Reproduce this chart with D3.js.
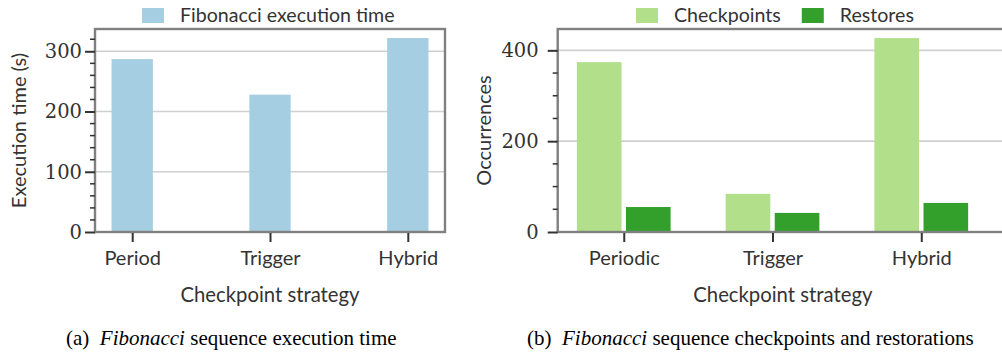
<!DOCTYPE html>
<html>
<head>
<meta charset="utf-8">
<script src="https://cdn.jsdelivr.net/npm/d3@7"></script>
<style>
  body { margin: 0; background: #fff; }
  .sans { font-family: Lato, "Open Sans", sans-serif; fill: #333; }
  .num { font-family: "DejaVu Serif", serif; fill: #333; }
  .cap { font-family: "Liberation Serif", serif; fill: #000; }
</style>
</head>
<body>
<div id="vis"></div>
<script>
// data
var strategiesA = ['Period', 'Trigger', 'Hybrid'];
var execTime = [287, 228, 322];

var strategiesB = ['Periodic', 'Trigger', 'Hybrid'];
var checkpoints = [374, 84, 427];
var restores = [55, 42, 64];

var ticksA = [0, 100, 200, 300];
var ticksB = [0, 200, 400];

var width = 1002;
var height = 354;

var svg = d3.select('#vis').append('svg')
  .attr('width', width)
  .attr('height', height);

var yTop = 29, yBottom = 232;

// draws one bar panel; series is a list of {name, values, color}
function panel(opt) {
  var g = svg.append('g');
  var x = d3.scaleLinear().domain(opt.xdom).range([opt.left, opt.right]);
  var y = d3.scaleLinear().domain([0, opt.ymax]).range([yBottom, yTop]);
  var unit = x(1) - x(0);

  // grid
  g.selectAll('.grid')
    .data(opt.ticks.filter(function (d) { return d > 0; }))
    .enter().append('line')
    .attr('x1', opt.left).attr('x2', opt.right)
    .attr('y1', function (d) { return y(d); })
    .attr('y2', function (d) { return y(d); })
    .attr('stroke', '#d0d0d0')
    .attr('stroke-width', 1.6);

  // bars
  var n = opt.series.length;
  opt.series.forEach(function (s, si) {
    g.selectAll('.bar' + si)
      .data(s.values)
      .enter().append('rect')
      .attr('x', function (d, i) {
        if (n == 1) return x(i) - 0.15 * unit;
        return si == 0 ? x(i) - 0.315 * unit : x(i) + 0.015 * unit;
      })
      .attr('width', 0.3 * unit)
      .attr('y', function (d) { return y(d); })
      .attr('height', function (d) { return yBottom - y(d); })
      .attr('fill', s.color);
  });

  // frame
  g.append('rect')
    .attr('x', opt.left).attr('y', yTop)
    .attr('width', opt.right - opt.left).attr('height', yBottom - yTop)
    .attr('fill', 'none')
    .attr('stroke', '#808080')
    .attr('stroke-width', 2.4);

  // y axis, major and minor ticks
  var yAxis = d3.axisLeft(y)
    .tickValues(opt.ticks)
    .tickSize(10)
    .tickPadding(opt.pad)
    .tickFormat(d3.format('d'));
  var ya = g.append('g')
    .attr('transform', 'translate(' + opt.left + ',0)')
    .call(yAxis);
  ya.select('.domain').remove();
  ya.selectAll('line').attr('stroke', '#333').attr('stroke-width', 2);
  ya.selectAll('text').attr('class', 'num').attr('font-size', 19.5).attr('fill', '#333');

  var minor = d3.range(0, opt.ymax, opt.minorStep)
    .filter(function (d) { return opt.ticks.indexOf(d) < 0; });
  g.selectAll('.minor')
    .data(minor)
    .enter().append('line')
    .attr('x1', opt.left - 5).attr('x2', opt.left)
    .attr('y1', function (d) { return y(d); })
    .attr('y2', function (d) { return y(d); })
    .attr('stroke', '#333')
    .attr('stroke-width', 1.5);

  // x axis
  var xAxis = d3.axisBottom(x)
    .tickValues(d3.range(opt.cats.length))
    .tickSize(9)
    .tickPadding(9)
    .tickFormat(function (d) { return opt.cats[d]; });
  var xa = g.append('g')
    .attr('transform', 'translate(0,' + (yBottom + 1) + ')')
    .call(xAxis);
  xa.select('.domain').remove();
  xa.selectAll('line').attr('stroke', '#333').attr('stroke-width', 2);
  xa.selectAll('text').attr('class', 'sans').attr('font-size', 20).attr('fill', '#333');

  g.append('text')
    .attr('class', 'sans')
    .attr('x', (opt.left + opt.right) / 2)
    .attr('y', 302)
    .attr('text-anchor', 'middle')
    .attr('font-size', 20.3)
    .text('Checkpoint strategy');

  g.append('text')
    .attr('class', 'sans')
    .attr('transform', 'translate(' + opt.ylabelX + ',' + ((yTop + yBottom) / 2) + ') rotate(-90)')
    .attr('text-anchor', 'middle')
    .attr('font-size', 20)
    .text(opt.ylabel);

  // legend
  var lx = opt.legendX;
  opt.series.forEach(function (s) {
    g.append('rect')
      .attr('x', lx).attr('y', 8)
      .attr('width', 22).attr('height', 15)
      .attr('fill', s.color);
    var t = g.append('text')
      .attr('class', 'sans')
      .attr('x', lx + 38).attr('y', 22)
      .attr('font-size', 19.6)
      .text(s.name);
    lx += 38 + t.node().getComputedTextLength() + 21;
  });

  // caption
  var cap = svg.append('text')
    .attr('class', 'cap')
    .attr('x', opt.capX)
    .attr('y', 345)
    .attr('font-size', 21)
    .attr('xml:space', 'preserve');
  cap.append('tspan').text(opt.capLetter + '\u2002');
  cap.append('tspan').attr('font-style', 'italic').text('Fibonacci');
  cap.append('tspan').text(' ' + opt.capRest);
}

panel({
  left: 95, right: 445, xdom: [-0.27, 2.27],
  ymax: 337, ticks: ticksA, minorStep: 20, pad: 3,
  cats: strategiesA,
  series: [{ name: 'Fibonacci execution time', values: execTime, color: '#a6cee3' }],
  ylabel: 'Execution time (s)', ylabelX: 26,
  legendX: 142,
  capX: 66, capLetter: '(a)', capRest: 'sequence execution time'
});

panel({
  left: 557.7, right: 1008, xdom: [-0.444, 2.583],
  ymax: 447, ticks: ticksB, minorStep: 50, pad: 9,
  cats: strategiesB,
  series: [
    { name: 'Checkpoints', values: checkpoints, color: '#b2df8a' },
    { name: 'Restores', values: restores, color: '#33a02c' }
  ],
  ylabel: 'Occurrences', ylabelX: 491,
  legendX: 636,
  capX: 527, capLetter: '(b)', capRest: 'sequence checkpoints and restorations'
});
</script>
</body>
</html>
